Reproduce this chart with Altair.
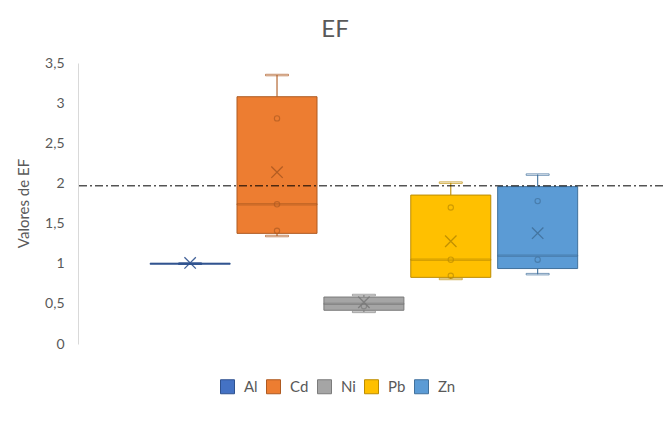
import altair as alt
import pandas as pd

# ---- data ----
series = ["Al", "Cd", "Ni", "Pb", "Zn"]
mins = [1.0, 1.345, 0.40, 0.81, 0.87]
q1s = [1.0, 1.378, 0.42, 0.83, 0.94]
medians = [1.0, 1.74, 0.50, 1.05, 1.10]
q3s = [1.0, 3.08, 0.585, 1.855, 1.96]
maxs = [1.0, 3.35, 0.61, 2.01, 2.11]
means = [1.01, 2.14, 0.52, 1.28, 1.38]

point_series = ["Cd", "Cd", "Cd", "Ni", "Pb", "Pb", "Pb", "Zn", "Zn"]
point_values = [2.81, 1.74, 1.41, 0.47, 1.70, 1.05, 0.85, 1.78, 1.05]

threshold = [1.97]
chart_title = ["EF"]

fill_colors = ["#4472C4", "#ED7D31", "#A5A5A5", "#FFC000", "#5B9BD5"]
stroke_colors = ["#2F528F", "#AE5A21", "#7B7B7B", "#BC8C00", "#41719C"]
y_ticks = [0, 0.5, 1, 1.5, 2, 2.5, 3, 3.5]

# ---- tables ----
stats = pd.DataFrame({
    "series": series, "pos": list(range(len(series))),
    "min": mins, "q1": q1s, "median": medians, "q3": q3s, "max": maxs, "mean": means,
})
pos_map = {s: i for i, s in enumerate(series)}
points = pd.DataFrame({"series": point_series,
                       "pos": [pos_map[s] for s in point_series],
                       "value": point_values})
thr = pd.DataFrame({"t": threshold})
ttl = pd.DataFrame({"title": chart_title})

FONT = "Lato"
GREY = "#595959"

legend = alt.Legend(
    title=None, orient="none", legendX=142, legendY=316, direction="horizontal",
    symbolType="square", symbolSize=196, symbolStrokeWidth=1, symbolOpacity=1,
    labelFontSize=15, labelColor=GREY, labelFont=FONT, labelOffset=9,
    columnPadding=6, padding=0,
)

xscale = alt.Scale(domain=[-1.233, 5.385])
X = alt.X("pos:Q", scale=xscale, axis=None)
fill_scale = alt.Scale(domain=series, range=fill_colors)
stroke_scale = alt.Scale(domain=series, range=stroke_colors)
STROKE = alt.Stroke("series:N", scale=stroke_scale, legend=legend)

yaxis = alt.Axis(
    values=y_ticks, grid=False, ticks=False, domainColor="#D9D9D9",
    labelExpr="replace(toString(datum.value), '.', ',')",
    labelFontSize=14, labelColor=GREY, labelFont=FONT, labelPadding=14,
    title="Valores de EF", titleFontSize=15, titleColor=GREY, titleFont=FONT,
    titleFontWeight="normal", titleX=-55, titleY=140, titleAngle=270,
    titleAlign="center", titleBaseline="middle",
)
yscale = alt.Scale(domain=[0, 3.5])

base = alt.Chart(stats)

lower_whisker = base.mark_rule(strokeWidth=1.1).encode(
    x=X, y=alt.Y("min:Q", scale=yscale, axis=yaxis), y2="q1:Q", stroke=STROKE)
upper_whisker = base.mark_rule(strokeWidth=1.1).encode(
    x=X, y=alt.Y("q3:Q", scale=yscale), y2="max:Q", stroke=STROKE)
cap_low = base.mark_tick(orient="horizontal", size=23, thickness=1.5).encode(
    x=X, y=alt.Y("min:Q", scale=yscale), stroke=STROKE, color=alt.value(None))
cap_high = base.mark_tick(orient="horizontal", size=23, thickness=1.5).encode(
    x=X, y=alt.Y("max:Q", scale=yscale), stroke=STROKE, color=alt.value(None))
box = base.mark_bar(size=80, strokeWidth=1).encode(
    x=X, y=alt.Y("q1:Q", scale=yscale), y2="q3:Q",
    fill=alt.Fill("series:N", scale=fill_scale, legend=legend), stroke=STROKE)
median = base.mark_tick(orient="horizontal", size=80, thickness=1.3).encode(
    x=X, y=alt.Y("median:Q", scale=yscale), stroke=STROKE, color=alt.value(None))
mean_x = base.mark_point(
    shape="M-1,-1L1,1M1,-1L-1,1", size=130, filled=False, strokeWidth=1.3, opacity=0.9
).encode(x=X, y=alt.Y("mean:Q", scale=yscale), stroke=STROKE)
inner = alt.Chart(points).mark_point(shape="circle", size=28, filled=False, strokeWidth=1.1).encode(
    x=X, y=alt.Y("value:Q", scale=yscale), stroke=STROKE)
ref = alt.Chart(thr).mark_rule(color="black", strokeWidth=1, strokeDash=[8, 3, 2, 3]).encode(
    y=alt.Y("t:Q", scale=yscale))
title_text = alt.Chart(ttl).mark_text(
    font=FONT, fontSize=24, color=GREY, align="center", baseline="alphabetic"
).encode(text="title:N", x=alt.value(257), y=alt.value(-26))

chart = alt.layer(
    lower_whisker, upper_whisker, cap_low, cap_high, box, median, mean_x, inner, ref, title_text
).properties(
    width=585, height=281, background="white",
    autosize=alt.AutoSizeParams(type="none"),
    padding={"left": 70, "top": 55, "right": 0, "bottom": 70},
).configure_view(stroke=None)

chart.save("out.html", embed_options={"renderer": "svg", "actions": False})
